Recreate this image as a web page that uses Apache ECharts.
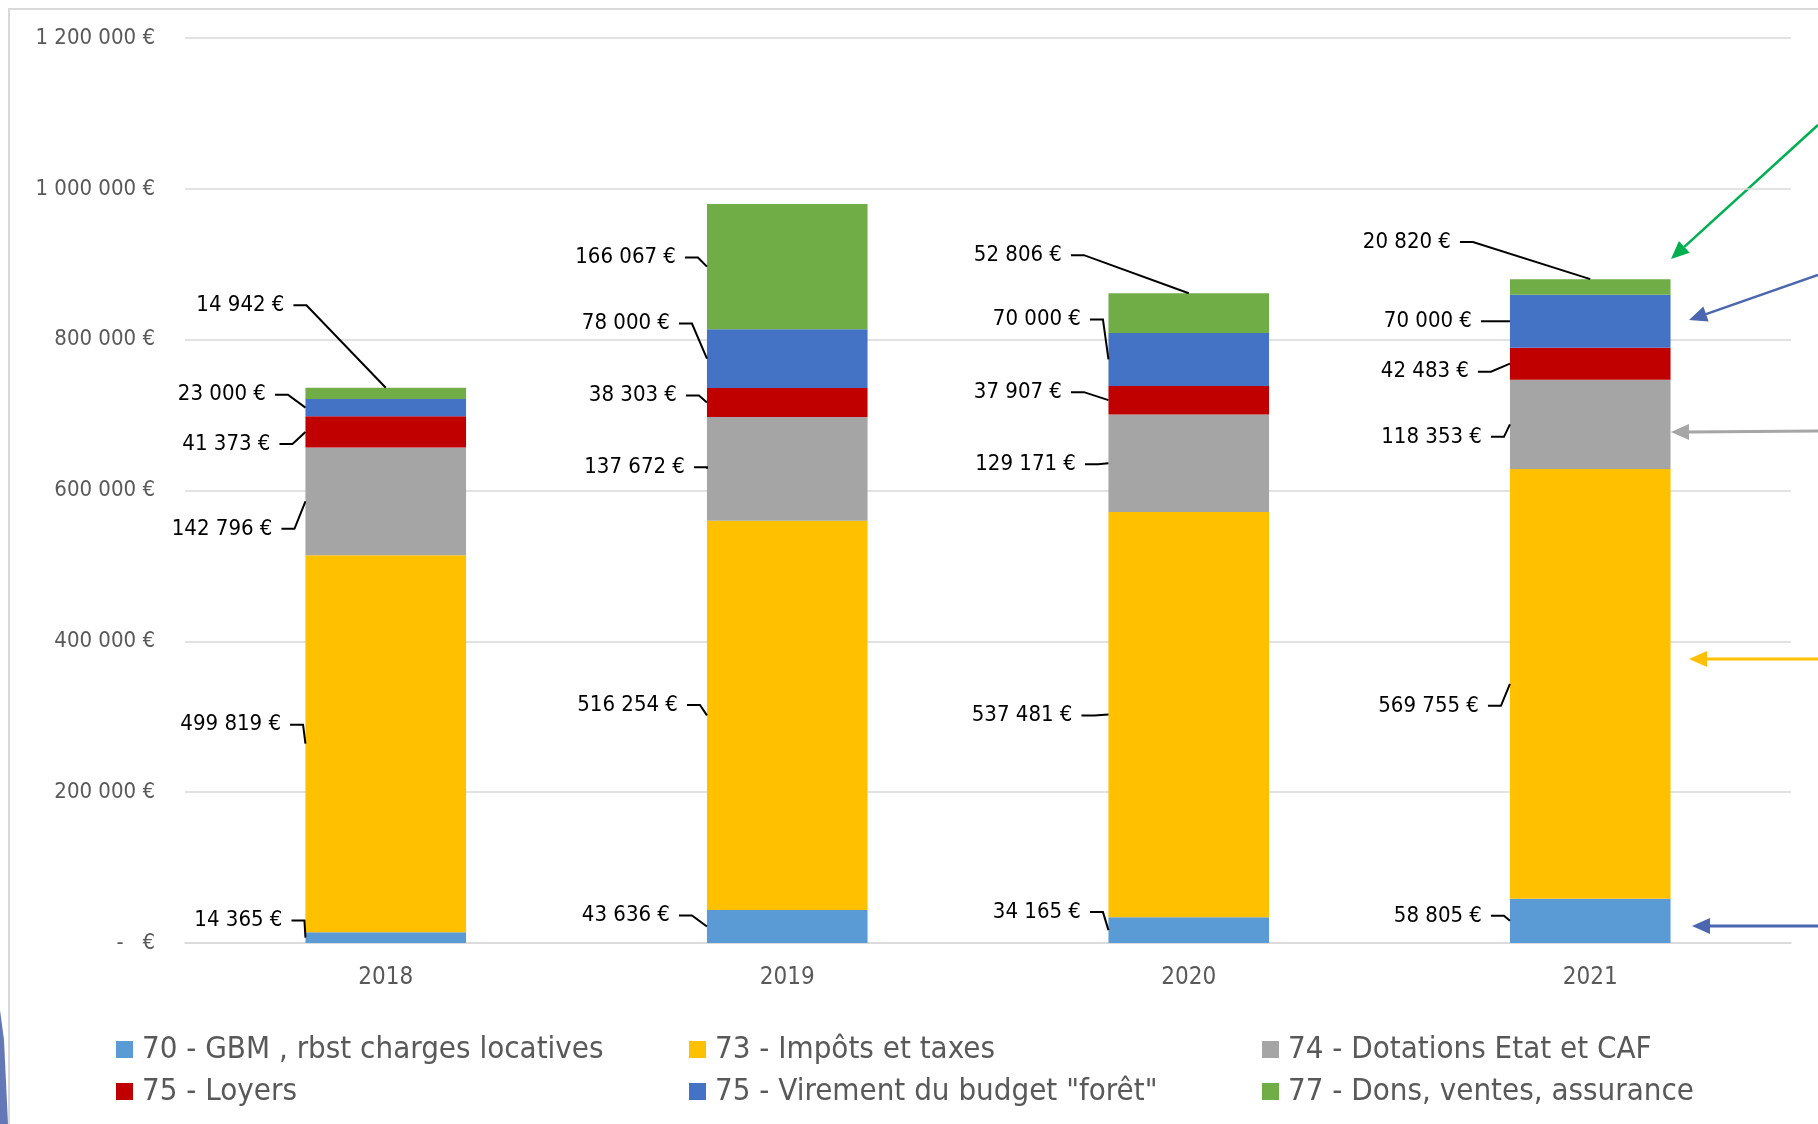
<!DOCTYPE html>
<html>
<head>
<meta charset="utf-8">
<script src="https://cdn.jsdelivr.net/npm/echarts@6/dist/echarts.min.js"></script>
<style>
  html, body { margin: 0; padding: 0; background: #fff; }
  #chart { width: 1818px; height: 1124px; }
</style>
</head>
<body>
<div id="chart"></div>
<script>
// data
const years = ['2018', '2019', '2020', '2021'];
const seriesNames = [
    '70 - GBM , rbst charges locatives',
    '73 - Impôts et taxes',
    '74 - Dotations Etat et CAF',
    '75 - Loyers',
    '75 - Virement du budget "forêt"',
    '77 - Dons, ventes, assurance'
];
const gbm = [14365, 43636, 34165, 58805];
const impots = [499819, 516254, 537481, 569755];
const dotations = [142796, 137672, 129171, 118353];
const loyers = [41373, 38303, 37907, 42483];
const virement = [23000, 78000, 70000, 70000];
const dons = [14942, 166067, 52806, 20820];
const yTicks = [0, 200000, 400000, 600000, 800000, 1000000, 1200000];

const seriesData = [gbm, impots, dotations, loyers, virement, dons];
const colors = ['#5b9bd5', '#ffc000', '#a5a5a5', '#c00000', '#4472c4', '#70ad47'];

// label offsets [dx, dy] per series / year, to place labels like the reference
const labelShift = [
    [[7, -17], [-7, -11], [2.5, -18], [2, -5]],
    [[5.6, -19], [1, -10.5], [-6, 1], [-1, 22]],
    [[-3, 27.5], [8, -1.5], [-2.5, 1], [2, 12.5]],
    [[-5, 12], [0, -7], [-16.5, -8], [-11, 8]],
    [[-9.5, -13], [-7, -35], [2.5, -40], [-8, 0]],
    [[9, -88], [-1, -9], [-16.5, -58], [-29, -45]]
];

const FONT = "'DejaVu Sans Condensed', 'Liberation Sans Narrow', 'DejaVu Sans', sans-serif";

function fmt(v) {
    return String(v).replace(/\B(?=(\d{3})+(?!\d))/g, ' ');
}

const series = seriesNames.map(function (name, i) {
    return {
        name: name,
        type: 'bar',
        stack: 'total',
        barWidth: '40%',
        data: seriesData[i],
        itemStyle: { color: colors[i] },
        emphasis: { disabled: true }
    };
});

// value labels with leader lines, placed from the axes' own coordinates
series.push({
    type: 'custom',
    name: 'labels',
    silent: true,
    clip: false,
    z: 5,
    data: years.map(function (y, k) { return [k, 0]; }),
    encode: { x: 0, y: 1 },
    renderItem: function (params, api) {
        const k = params.dataIndex;
        const cx = api.coord([k, 0])[0];
        const left = cx - api.size([1, 0])[0] * 0.2;
        const children = [];
        let base = 0;
        const total = seriesData.reduce(function (s, a) { return s + a[k]; }, 0);
        const barTop = api.coord([k, total])[1];
        seriesData.forEach(function (arr, i) {
            const v = arr[k];
            const yTop = api.coord([k, base + v])[1];
            const yBot = api.coord([k, base])[1];
            base += v;
            const yMid = (yTop + yBot) / 2;
            const s = labelShift[i][k];
            const tx = left - 30 + s[0];
            const ty = yMid + s[1];
            const target = (i === seriesData.length - 1 && ty < barTop) ? [cx, barTop] : [left, yMid];
            children.push({
                type: 'text',
                style: {
                    text: fmt(v) + ' €',
                    x: tx, y: ty,
                    align: 'right', verticalAlign: 'middle',
                    fontSize: 22, fontFamily: FONT, fill: '#000'
                }
            });
            children.push({
                type: 'polyline',
                shape: { points: [[tx + 9, ty], [tx + 22, ty], target] },
                style: { stroke: '#000', lineWidth: 2, fill: null }
            });
        });
        return { type: 'group', children: children };
    }
});

const legendCols = [[0, 3], [1, 4], [2, 5]];
const legendLeft = [116, 689, 1262];
const legends = legendCols.map(function (col, k) {
    return {
        orient: 'vertical',
        left: legendLeft[k],
        top: 1034,
        padding: 0,
        itemWidth: 17,
        itemHeight: 17,
        itemGap: 11,
        icon: 'rect',
        selectedMode: false,
        data: col.map(function (j) { return seriesNames[j]; }),
        textStyle: {
            color: '#595959',
            fontSize: 31,
            lineHeight: 31,
            fontFamily: FONT,
            padding: [0, 0, 0, 4]
        }
    };
});

function arrow(x1, y1, x2, y2, color, w) {
    const ang = Math.atan2(y2 - y1, x2 - x1);
    const hl = 18, hw = 8;
    const bx = x2 - hl * Math.cos(ang), by = y2 - hl * Math.sin(ang);
    const px = -Math.sin(ang) * hw, py = Math.cos(ang) * hw;
    return [{
        type: 'line',
        shape: { x1: x1, y1: y1, x2: bx, y2: by },
        style: { stroke: color, lineWidth: w }
    }, {
        type: 'polygon',
        shape: { points: [[x2, y2], [bx + px, by + py], [bx - px, by - py]] },
        style: { fill: color }
    }];
}

const graphics = [].concat(
    [{
        type: 'rect',
        shape: { x: 9, y: 9, width: 2000, height: 2000 },
        style: { fill: 'none', stroke: '#d9d9d9', lineWidth: 2 },
        z: -10
    }, {
        type: 'polygon',
        shape: { points: [[0, 1010], [4, 1040], [8, 1124], [0, 1124]] },
        style: { fill: '#6478b8' }
    }],
    arrow(1818, 125, 1671, 259, '#00b050', 2.5),
    arrow(1818, 275, 1689, 320, '#4a67b0', 2.5),
    arrow(1818, 431, 1671, 432, '#a6a6a6', 3),
    arrow(1818, 659, 1689, 659, '#ffc000', 3),
    arrow(1818, 926, 1692, 926, '#4a67b0', 3)
);

const chart = echarts.init(document.getElementById('chart'));
chart.setOption({
    animation: false,
    backgroundColor: '#fff',
    grid: { left: 185, right: 27, top: 38, bottom: 181 },
    legend: legends,
    xAxis: {
        type: 'category',
        data: years,
        axisLine: { lineStyle: { color: '#d9d9d9', width: 1.5 } },
        axisTick: { show: false },
        axisLabel: { color: '#595959', fontSize: 24, fontFamily: FONT, margin: 23 }
    },
    yAxis: {
        type: 'value',
        min: yTicks[0],
        max: yTicks[yTicks.length - 1],
        interval: yTicks[1] - yTicks[0],
        axisLine: { show: false },
        axisTick: { show: false },
        splitLine: { lineStyle: { color: '#d9d9d9', width: 1.5 } },
        axisLabel: {
            color: '#595959',
            fontSize: 22,
            fontFamily: FONT,
            margin: 30,
            formatter: function (v) { return v === 0 ? '-   €' : fmt(v) + ' €'; }
        }
    },
    graphic: graphics,
    series: series
});
</script>
</body>
</html>
